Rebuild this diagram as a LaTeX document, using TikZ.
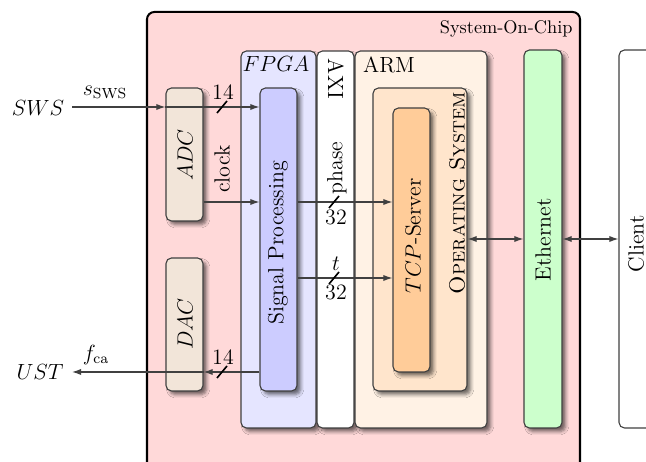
\documentclass[tikz,border=0pt]{standalone}
\usetikzlibrary{arrows.meta,fit,shadows.blur}
\begin{document}
\begin{tikzpicture}[x=0.5464pt,y=-0.5464pt,
  box/.style={draw=black!75, line width=0.6pt, rounded corners=3pt, inner sep=0pt},
  sbox/.style={box, blur shadow={shadow xshift=2pt, shadow yshift=-2pt,
      shadow blur radius=1.8pt, shadow opacity=55}},
  arr/.style={draw=black!75, line width=0.6pt, -{Latex[length=5pt,width=3.4pt]}},
  darr/.style={draw=black!75, line width=0.6pt,
      {Latex[length=5pt,width=3.4pt]}-{Latex[length=5pt,width=3.4pt]}},
  bus/.style={draw=black, line width=0.9pt},
  lbl/.style={font=\large, inner sep=0pt},
  vlbl/.style={lbl, rotate=90},
]
\useasboundingbox (0,0) rectangle (646,462);
\clip (0,0) rectangle (646,462);

% system on chip
\node[box, draw=black, line width=1.1pt, rounded corners=4pt, fill=red!15,
      fit={(147,12) (580,490)}] (soc) {};
\node[anchor=east, inner sep=0pt] (soclbl) at (573,29) {System-On-Chip};

% FPGA, AXI and ARM columns
\node[sbox, fill=blue!10, fit={(241,51) (316,428)}] (fpga) {};
\node[sbox, fill=white, fit={(317,51) (354,428)}] (axi) {};
\node[sbox, fill=orange!10, fit={(355,51) (487,428)}] (arm) {};
\node[lbl] (fpgalbl) at (276,64) {$FPGA$};
\node[lbl, rotate=-90] (axilbl) at (336,79) {AXI};
\node[lbl] (armlbl) at (389,65) {ARM};

% operating system and server
\node[sbox, fill=orange!20, fit={(373,88) (467,391)}] (os) {};
\node[vlbl] (oslbl) at (457,193) {\textsc{Operating System}};
\node[sbox, fill=orange!40, fit={(393,108) (430,372)}] (tcp) {};
\node[vlbl] (tcplbl) at (413,236) {$TCP$-Server};

% signal processing
\node[sbox, fill=blue!20, fit={(260,88) (297,391)}] (sp) {};
\node[vlbl] (splbl) at (278,243) {Signal Processing};

% converters
\node[sbox, fill=brown!20, fit={(166,88) (203,221)}] (adc) {};
\node[vlbl] (adclbl) at (185,155) {$ADC$};
\node[sbox, fill=brown!20, fit={(166,258) (203,391)}] (dac) {};
\node[vlbl] (daclbl) at (185,324) {$DAC$};

% network
\node[sbox, fill=green!20, fit={(524,50) (562,428)}] (eth) {};
\node[vlbl] (ethlbl) at (543,240) {Ethernet};
\node[box, fill=white, fit={(619,50) (668,428)}] (client) {};
\node[vlbl] (clientlbl) at (636,244) {Client};

% signal levels
\coordinate (swsin) at (72,107);
\coordinate (ustout) at (72,372);
\coordinate (yclk) at (0,202);
\coordinate (yt) at (0,278);
\coordinate (yout) at (0,372);
\coordinate (ynet) at (0,239);

% external signals
\node[lbl] (sws) at (38,108) {$SWS$};
\node[lbl] (ust) at (40,372) {$UST$};
\node[lbl] (ssws) at (105,92) {$s_{\mathrm{SWS}}$};
\node[lbl] (fca) at (96,355) {$f_{\mathrm{ca}}$};

% connectors
\draw[arr] (swsin) -- (swsin -| adc.west);
\draw[arr] (swsin -| adc.west) -- (swsin -| sp.west);
\draw[arr] (adc.east |- yclk) -- (sp.west |- yclk);
\draw[arr] (sp.east |- yclk) -- (tcp.west |- yclk);
\draw[arr] (sp.east |- yt) -- (tcp.west |- yt);
\draw[arr] (sp.west |- yout) -- (dac.east |- yout);
\draw[arr] (dac.east |- yout) -- (ustout);
\draw[darr] (os.east |- ynet) -- (eth.west |- ynet);
\draw[darr] (eth.east |- ynet) -- (client.west |- ynet);

% bus width marks
\coordinate (b1) at (222,107);
\coordinate (b2) at (334,202);
\coordinate (b3) at (334,278);
\coordinate (b4) at (222,372);
\foreach \b in {b1,b2,b3,b4}
  \draw[bus] ([shift={(-5,6)}]\b) -- ([shift={(5,-6)}]\b);
\node[lbl] (w1) at (223,92) {14};
\node[lbl] (w4) at (223,357) {14};
\node[lbl] (w2) at (336,217) {32};
\node[lbl] (w3) at (336,292) {32};
\node[vlbl] (clklbl) at (222,169) {clock};
\node[vlbl] (phaselbl) at (337,168) {phase};
\node[lbl] (tlbl) at (336,264) {$t$};
\end{tikzpicture}
\end{document}
